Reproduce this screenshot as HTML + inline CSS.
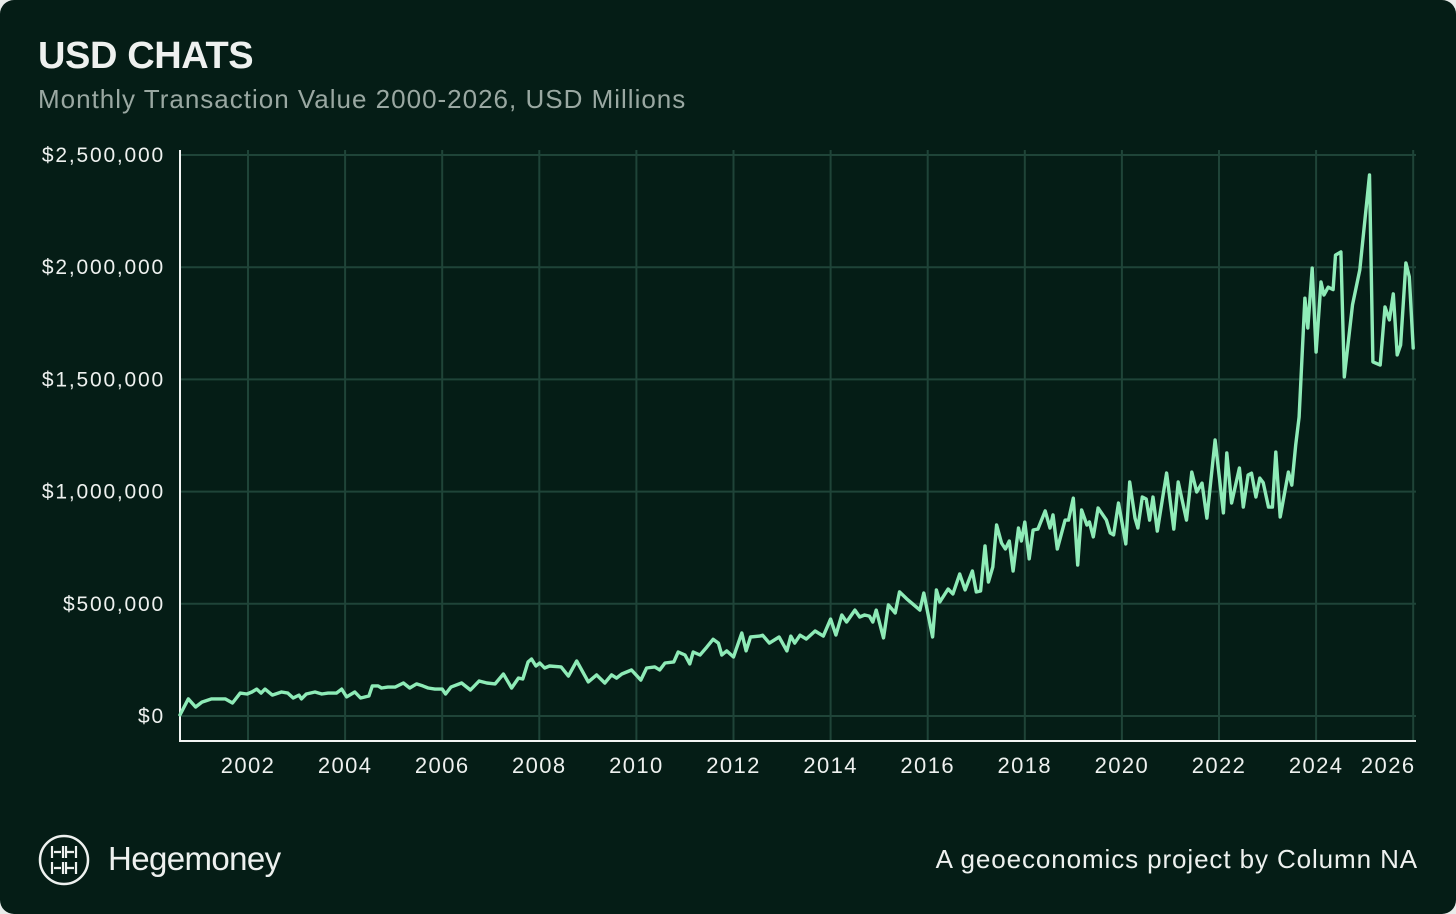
<!DOCTYPE html>
<html><head><meta charset="utf-8">
<style>
html,body{margin:0;padding:0;background:#e9ecea;}
body{width:1456px;height:914px;overflow:hidden;font-family:"Liberation Sans",sans-serif;}
#card{position:absolute;left:0;top:0;width:1456px;height:914px;background:#051d16;border-radius:14px;}
#title{position:absolute;left:38px;top:35px;font-size:38px;font-weight:bold;color:#eef1ef;letter-spacing:-0.4px;}
#subtitle{position:absolute;left:38px;top:84px;font-size:26px;color:#9aa8a2;letter-spacing:1px;}
#brand{position:absolute;left:108px;top:840px;font-size:33px;color:#eef1ef;letter-spacing:-0.6px;}
#credit{position:absolute;right:38px;top:844px;font-size:26px;color:#eef1ef;letter-spacing:0.9px;}
svg{position:absolute;left:0;top:0;}
</style></head><body>
<div id="card">
<div id="title">USD CHATS</div>
<div id="subtitle">Monthly Transaction Value 2000-2026, USD Millions</div>
<svg id="chart" width="1456" height="914"></svg>
<svg width="1456" height="914">
  <circle cx="64" cy="860" r="24" fill="none" stroke="#eef1ef" stroke-width="2.5"/>
  <g stroke="#eef1ef" stroke-width="2.2" fill="none">
    <path d="M52 846 V858 M63 846 V858 M54 852 H61 M66 846 V858 M76 846 V858 M66 852 H74 M52 862 V874 M63 862 V874 M54 868 H61 M66 862 V874 M76 862 V874 M66 868 H74"/>
  </g>
</svg>
<div id="brand">Hegemoney</div>
<div id="credit">A geoeconomics project by Column NA</div>
</div>
<script>
const dates = [2000.6,2000.77,2000.92,2001.05,2001.25,2001.53,2001.68,2001.84,2001.98,2002.08,2002.18,2002.27,2002.35,2002.5,2002.69,2002.82,2002.93,2003.05,2003.1,2003.2,2003.38,2003.52,2003.65,2003.82,2003.93,2004.03,2004.2,2004.32,2004.49,2004.56,2004.68,2004.75,2004.88,2005.03,2005.2,2005.33,2005.47,2005.6,2005.71,2005.85,2006.0,2006.07,2006.18,2006.4,2006.58,2006.76,2006.92,2007.09,2007.26,2007.43,2007.57,2007.66,2007.77,2007.84,2007.93,2008.01,2008.11,2008.21,2008.45,2008.6,2008.77,2009.01,2009.18,2009.35,2009.49,2009.59,2009.7,2009.9,2010.09,2010.21,2010.38,2010.48,2010.59,2010.77,2010.86,2011.0,2011.1,2011.17,2011.31,2011.45,2011.58,2011.69,2011.76,2011.86,2012.0,2012.17,2012.26,2012.35,2012.54,2012.6,2012.74,2012.94,2013.1,2013.18,2013.26,2013.37,2013.5,2013.68,2013.85,2014.0,2014.11,2014.23,2014.33,2014.5,2014.6,2014.7,2014.8,2014.87,2014.94,2015.09,2015.19,2015.33,2015.42,2015.57,2015.84,2015.92,2016.1,2016.18,2016.25,2016.42,2016.52,2016.66,2016.77,2016.92,2017.0,2017.09,2017.18,2017.25,2017.34,2017.42,2017.52,2017.6,2017.68,2017.76,2017.87,2017.93,2018.0,2018.09,2018.17,2018.27,2018.42,2018.52,2018.58,2018.67,2018.83,2018.9,2019.0,2019.09,2019.17,2019.28,2019.33,2019.41,2019.51,2019.68,2019.76,2019.83,2019.93,2020.08,2020.16,2020.27,2020.33,2020.42,2020.5,2020.57,2020.64,2020.73,2020.92,2021.07,2021.16,2021.33,2021.44,2021.54,2021.65,2021.75,2021.92,2022.09,2022.16,2022.26,2022.42,2022.5,2022.6,2022.67,2022.76,2022.84,2022.91,2023.02,2023.1,2023.17,2023.26,2023.43,2023.5,2023.58,2023.65,2023.77,2023.83,2023.92,2024.0,2024.1,2024.16,2024.25,2024.35,2024.4,2024.51,2024.58,2024.75,2024.9,2025.1,2025.17,2025.32,2025.42,2025.51,2025.59,2025.67,2025.74,2025.85,2025.92,2026.0,2026.1];
const values = [5000,76000,40000,62000,76000,76000,58000,102000,98000,107000,120000,102000,120000,93000,107000,102000,80000,93000,76000,98000,107000,98000,102000,102000,120000,85000,107000,80000,89000,134000,134000,125000,129000,129000,147000,125000,143000,134000,125000,120000,120000,98000,129000,147000,116000,156000,147000,143000,187000,125000,169000,165000,241000,254000,223000,236000,214000,223000,219000,178000,245000,152000,183000,147000,183000,169000,187000,205000,160000,214000,219000,205000,236000,241000,285000,272000,232000,285000,272000,307000,342000,325000,272000,290000,263000,370000,290000,352000,356000,360000,325000,352000,290000,356000,325000,360000,343000,379000,356000,432000,361000,450000,419000,472000,441000,450000,445000,419000,472000,348000,495000,459000,553000,522000,472000,548000,352000,562000,508000,566000,544000,633000,562000,646000,553000,557000,758000,597000,664000,851000,771000,744000,780000,646000,838000,780000,864000,700000,829000,833000,914000,838000,896000,744000,873000,873000,971000,673000,918000,851000,865000,798000,927000,873000,816000,807000,949000,767000,1043000,882000,838000,976000,967000,873000,976000,824000,1083000,833000,1043000,873000,1087000,998000,1038000,882000,1230000,905000,1172000,949000,1105000,931000,1074000,1082000,976000,1060000,1040000,931000,931000,1176000,887000,1087000,1029000,1207000,1332000,1862000,1729000,1996000,1622000,1934000,1876000,1911000,1900000,2054000,2068000,1511000,1832000,1988000,2411000,1578000,1564000,1823000,1765000,1881000,1609000,1653000,2019000,1957000,1640000];
const yTicks = [0,500000,1000000,1500000,2000000,2500000];
const yTickLabels = ["$0","$500,000","$1,000,000","$1,500,000","$2,000,000","$2,500,000"];
const xTicks = [2002,2004,2006,2008,2010,2012,2014,2016,2018,2020,2022,2024,2026];

const NS="http://www.w3.org/2000/svg";
const svg=document.getElementById('chart');
const X0=180,X1=1416,Y0=741,Ytop=150;
function xs(yr){return 248+(yr-2002)*48.55;}
function ys(v){return 716-v/500000*112.2;}
function mk(tag,attrs,parent){const e=document.createElementNS(NS,tag);for(const k in attrs)e.setAttribute(k,attrs[k]);(parent||svg).appendChild(e);return e;}

yTicks.forEach((t,i)=>{
  const g=mk('line',{x1:X0,x2:X1,y1:ys(t),y2:ys(t),stroke:'#1f4438','stroke-width':2});
  
  
  const tx=mk('text',{x:165,y:ys(t)+7,'text-anchor':'end','font-size':21,'letter-spacing':'1.8',fill:'#eef1ef','font-family':'Liberation Sans, sans-serif'});
  tx.textContent=yTickLabels[i];
  
  
});
xTicks.forEach((t,i)=>{
  const x=xs(t);
  const g=mk('line',{x1:x,x2:x,y1:Ytop,y2:Y0,stroke:'#1f4438','stroke-width':2});
  
  
  const lx=(i===xTicks.length-1)?x-25:x;
  const tx=mk('text',{x:lx,y:773,'text-anchor':'middle','font-size':22,'letter-spacing':'1.4',fill:'#eef1ef','font-family':'Liberation Sans, sans-serif'});
  tx.textContent=String(t);
  
  
});
const ax=mk('line',{x1:X0,x2:X0,y1:Ytop,y2:Y0+1,stroke:'#f2f4f3','stroke-width':2});


const bx=mk('line',{x1:X0-1,x2:X1,y1:Y0,y2:Y0,stroke:'#f2f4f3','stroke-width':2});



let d='';
dates.forEach((t,i)=>{d+=(i?'L':'M')+xs(t).toFixed(1)+' '+ys(values[i]).toFixed(1);});
const p=mk('path',{d:d,fill:'none',stroke:'#8eebb7','stroke-width':3.4,'stroke-linejoin':'round','stroke-linecap':'round'});


</script>
</body></html>
